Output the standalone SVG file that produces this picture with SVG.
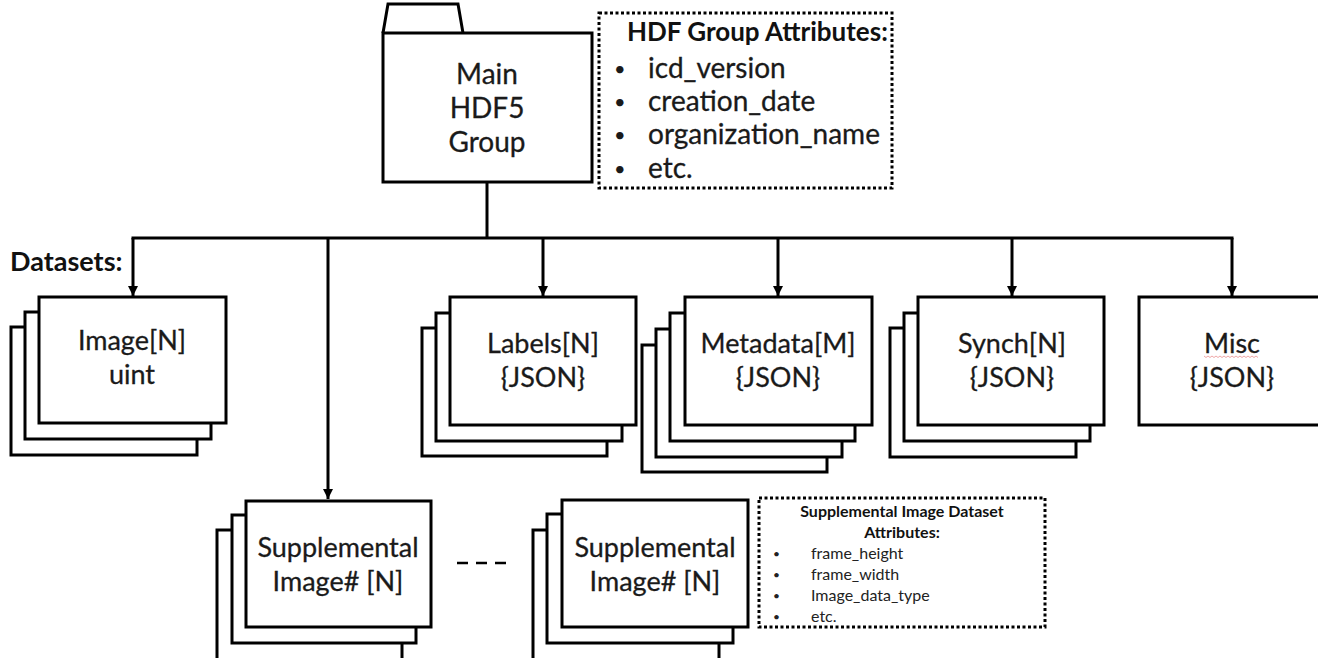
<svg xmlns="http://www.w3.org/2000/svg" width="1318" height="658" viewBox="0 0 1318 658">
  <style>
    .box { fill: #ffffff; stroke: #000000; stroke-width: 3; }
    .wire { fill: none; stroke: #000000; stroke-width: 3; }
    .note { fill: #ffffff; stroke: #000000; stroke-width: 3; stroke-dasharray: 3 2.5; }
    .lbl { font-family: Lato, "Liberation Sans", sans-serif; font-size: 27px; fill: #1a1a1a; stroke: #1a1a1a; stroke-width: 0.3; text-anchor: middle; }
    .hdr { font-family: Lato, "Liberation Sans", sans-serif; font-size: 26px; font-weight: bold; fill: #111111; }
    .item { font-family: Lato, "Liberation Sans", sans-serif; font-size: 28px; fill: #1a1a1a; stroke: #1a1a1a; stroke-width: 0.3; }
    .dot { font-family: Lato, "Liberation Sans", sans-serif; font-size: 20px; fill: #1a1a1a; }
    .shdr { font-family: Lato, "Liberation Sans", sans-serif; font-size: 16px; font-weight: bold; fill: #111111; text-anchor: middle; }
    .sitem { font-family: Lato, "Liberation Sans", sans-serif; font-size: 16px; fill: #222222; }
    .sdot { font-family: Lato, "Liberation Sans", sans-serif; font-size: 12px; fill: #222222; }
  </style>
  <defs>
    <marker id="arrow" markerUnits="userSpaceOnUse" markerWidth="12" markerHeight="12" refX="10" refY="6" orient="auto">
      <path d="M0,1 L10,6 L0,11 Z" fill="#000000"/>
    </marker>
  </defs>

  <rect width="1318" height="658" fill="#ffffff"/>

  <!-- connectors -->
  <g id="connectors">
    <line class="wire" x1="487" y1="182" x2="487" y2="238"/>
    <line class="wire" x1="131.5" y1="238" x2="1233.5" y2="238"/>
    <line class="wire" x1="133" y1="238" x2="133" y2="296" marker-end="url(#arrow)"/>
    <line class="wire" x1="328" y1="238" x2="328" y2="499" marker-end="url(#arrow)"/>
    <line class="wire" x1="543" y1="238" x2="543" y2="296" marker-end="url(#arrow)"/>
    <line class="wire" x1="778" y1="238" x2="778" y2="296" marker-end="url(#arrow)"/>
    <line class="wire" x1="1012" y1="238" x2="1012" y2="296" marker-end="url(#arrow)"/>
    <line class="wire" x1="1232" y1="238" x2="1232" y2="296" marker-end="url(#arrow)"/>
  </g>

  <!-- main group folder -->
  <g id="main-group">
    <path class="box" d="M383,33 L388,4 L458,4 L463,33"/>
    <rect class="box" x="383" y="33" width="209" height="149"/>
    <text class="lbl" x="487" y="84" style="font-size:28px">Main</text>
    <text class="lbl" x="487" y="118" style="font-size:28px">HDF5</text>
    <text class="lbl" x="487" y="152" style="font-size:28px">Group</text>
  </g>

  <!-- group attribute note -->
  <g id="group-attributes">
    <rect class="note" x="599" y="13" width="293" height="175"/>
    <text class="hdr" x="627" y="41">HDF Group Attributes:</text>
    <text class="dot" x="614" y="76">•</text>
    <text class="item" x="648" y="78">icd_version</text>
    <text class="dot" x="614" y="109">•</text>
    <text class="item" x="648" y="111">creation_date</text>
    <text class="dot" x="614" y="142">•</text>
    <text class="item" x="648" y="144">organization_name</text>
    <text class="dot" x="614" y="176">•</text>
    <text class="item" x="648" y="178">etc.</text>
  </g>

  <text id="datasets-label" class="hdr" x="10" y="271" style="font-size:27px">Datasets:</text>

  <!-- image dataset stack -->
  <g id="image">
    <rect class="box" x="11" y="327" width="186" height="128"/>
    <rect class="box" x="25" y="312" width="186" height="127"/>
    <rect class="box" x="39" y="297" width="187" height="126"/>
    <text class="lbl" x="132" y="350">Image[N]</text>
    <text class="lbl" x="132" y="384">uint</text>
  </g>

  <!-- labels dataset stack -->
  <g id="labels">
    <rect class="box" x="422" y="328" width="185" height="128"/>
    <rect class="box" x="436" y="313" width="186" height="128"/>
    <rect class="box" x="450" y="297" width="186" height="128"/>
    <text class="lbl" x="543" y="353">Labels[N]</text>
    <text class="lbl" x="543" y="387">{JSON}</text>
  </g>

  <!-- metadata dataset stack -->
  <g id="metadata">
    <rect class="box" x="642" y="345" width="185" height="127"/>
    <rect class="box" x="656" y="329" width="186" height="128"/>
    <rect class="box" x="670" y="313" width="185" height="128"/>
    <rect class="box" x="685" y="297" width="187" height="128"/>
    <text class="lbl" x="778" y="353">Metadata[M]</text>
    <text class="lbl" x="778" y="387">{JSON}</text>
  </g>

  <!-- synch dataset stack -->
  <g id="synch">
    <rect class="box" x="890" y="328" width="186" height="129"/>
    <rect class="box" x="904" y="313" width="186" height="128"/>
    <rect class="box" x="918" y="297" width="186" height="128"/>
    <text class="lbl" x="1012" y="353">Synch[N]</text>
    <text class="lbl" x="1012" y="387">{JSON}</text>
  </g>

  <!-- misc dataset -->
  <g id="misc">
    <rect class="box" x="1139" y="297" width="188" height="128"/>
    <text class="lbl" x="1232" y="353">Misc</text>
    <path d="M1204,356 l2,1.5 l2,-1.5 l2,1.5 l2,-1.5 l2,1.5 l2,-1.5 l2,1.5 l2,-1.5 l2,1.5 l2,-1.5 l2,1.5 l2,-1.5 l2,1.5 l2,-1.5 l2,1.5 l2,-1.5 l2,1.5 l2,-1.5 l2,1.5 l2,-1.5 l2,1.5 l2,-1.5 l2,1.5 l2,-1.5 l2,1.5 l2,-1.5 l2,1.5" fill="none" stroke="#e06060" stroke-width="0.8" opacity="0.7"/>
    <text class="lbl" x="1232" y="387">{JSON}</text>
  </g>

  <!-- supplemental image stacks -->
  <g id="supplemental-1">
    <rect class="box" x="217" y="530" width="185" height="135"/>
    <rect class="box" x="232" y="515" width="184" height="128"/>
    <rect class="box" x="246" y="501" width="185" height="126"/>
    <text class="lbl" x="338" y="557">Supplemental</text>
    <text class="lbl" x="338" y="591">Image# [N]</text>
  </g>

  <line id="ellipsis" x1="457" y1="563" x2="506" y2="563" stroke="#000000" stroke-width="2.5" stroke-dasharray="11 8"/>

  <g id="supplemental-2">
    <rect class="box" x="533" y="530" width="186" height="135"/>
    <rect class="box" x="547" y="514" width="186" height="129"/>
    <rect class="box" x="562" y="500" width="186" height="127"/>
    <text class="lbl" x="655" y="557">Supplemental</text>
    <text class="lbl" x="655" y="591">Image# [N]</text>
  </g>

  <!-- supplemental dataset attribute note -->
  <g id="supplemental-attributes">
    <rect class="note" x="759" y="498" width="286" height="129"/>
    <text class="shdr" x="902" y="517">Supplemental Image Dataset</text>
    <text class="shdr" x="902" y="538">Attributes:</text>
    <text class="sdot" x="773" y="558">•</text>
    <text class="sitem" x="811" y="559">frame_height</text>
    <text class="sdot" x="773" y="579">•</text>
    <text class="sitem" x="811" y="580">frame_width</text>
    <text class="sdot" x="773" y="600">•</text>
    <text class="sitem" x="811" y="601">Image_data_type</text>
    <text class="sdot" x="773" y="621">•</text>
    <text class="sitem" x="811" y="622">etc.</text>
  </g>
</svg>
